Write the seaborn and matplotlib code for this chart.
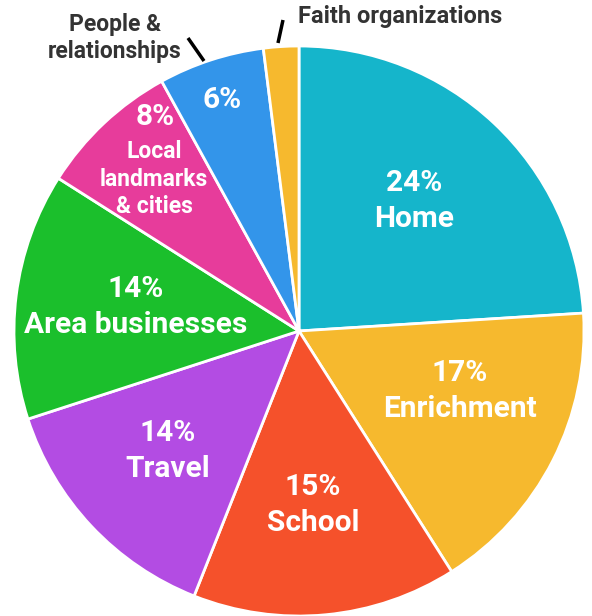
import matplotlib
matplotlib.use("Agg")
import matplotlib.pyplot as plt
import seaborn as sns

categories = ["Home", "Enrichment", "School", "Travel", "Area businesses",
              "Local landmarks & cities", "People & relationships", "Faith organizations"]
values = [24, 17, 15, 14, 14, 8, 6, 2]
colors = ["#15B5CB", "#F6B92E", "#F5512B", "#B34CE3", "#1BBF2C", "#E73C9B", "#3395EA", "#F6B92E"]

sns.set_theme(style="white")
plt.rcParams['font.family'] = ['Roboto', 'DejaVu Sans']

W, H = 592, 616
fig = plt.figure(figsize=(W / 100, H / 100), dpi=100)
cx, cy, R = 299, 331, 285
ax = fig.add_axes([(cx - R) / W, (H - cy - R) / H, 2 * R / W, 2 * R / H])
ax.pie(values, colors=colors, startangle=90, counterclock=False, radius=1,
       wedgeprops=dict(edgecolor="white", linewidth=2))
ax.set_xlim(-1, 1)
ax.set_ylim(-1, 1)
ax.set_aspect("equal")
ax.axis("off")

def p(px, py):
    return ((px - cx) / R, (cy - py) / R)

BIG = 21.5
inner = [
    ("24%\nHome", 414, 201),
    ("17%\nEnrichment", 460, 391),
    ("15%\nSchool", 313, 505),
    ("14%\nTravel", 168, 451),
    ("14%\nArea businesses", 136, 307),
]
for txt, px, py in inner:
    x, y = p(px, py)
    ax.text(x, y, txt, ha="center", va="center", color="white", fontsize=BIG,
            fontweight="bold", linespacing=1.32)

x, y = p(155, 117)
ax.text(x, y, "8%", ha="center", va="center", color="white", fontsize=BIG, fontweight="bold")
x, y = p(154, 179)
ax.text(x, y, "Local\nlandmarks\n& cities", ha="center", va="center", color="white",
        fontsize=16.5, fontweight="bold", linespacing=1.27)
x, y = p(222, 100)
ax.text(x, y, "6%", ha="center", va="center", color="white", fontsize=BIG, fontweight="bold")

x, y = p(115, 38)
ax.text(x, y, "People &\nrelationships", ha="center", va="center", color="#333333",
        fontsize=16.5, fontweight="bold", linespacing=1.17, clip_on=False)
x, y = p(298, 17)
ax.text(x, y, "Faith organizations", ha="left", va="center", color="#333333",
        fontsize=17, fontweight="bold", clip_on=False)

x1, y1 = p(188, 38)
x2, y2 = p(204, 61)
ax.plot([x1, x2], [y1, y2], color="black", lw=2.5, clip_on=False, solid_capstyle="butt")
x1, y1 = p(283, 20)
x2, y2 = p(278, 43)
ax.plot([x1, x2], [y1, y2], color="black", lw=2.5, clip_on=False, solid_capstyle="butt")

fig.savefig("out.png", dpi=100, facecolor="white")
